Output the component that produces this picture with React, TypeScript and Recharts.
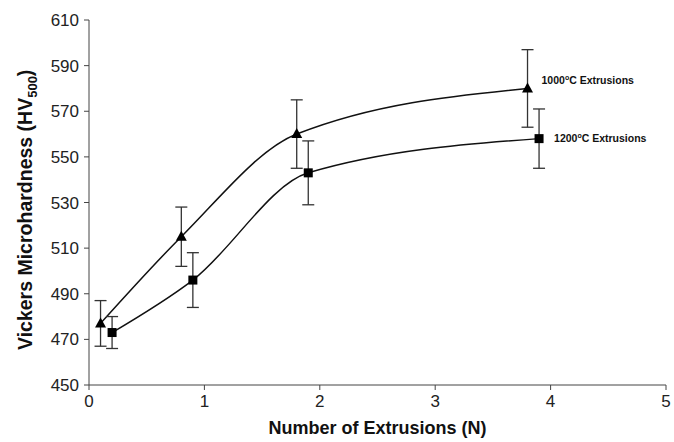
import { ErrorBar, Line, LineChart, XAxis, YAxis } from "recharts";

// 1000°C extrusions (triangles)
const n1000 = [0.1, 0.8, 1.8, 3.8];
const hv1000 = [477, 515, 560, 580];
const err1000 = [10, 13, 15, 17];

// 1200°C extrusions (squares)
const n1200 = [0.2, 0.9, 1.9, 3.9];
const hv1200 = [473, 496, 543, 558];
const err1200 = [7, 12, 14, 13];

const xTicks = [0, 1, 2, 3, 4, 5];
const yTicks = [450, 470, 490, 510, 530, 550, 570, 590, 610];

const seriesLabels = ["1000", "1200"];

const rows1000 = n1000.map((n, i) => ({ n, hv: hv1000[i], err: err1000[i] }));
const rows1200 = n1200.map((n, i) => ({ n, hv: hv1200[i], err: err1200[i] }));

const FONT = "Arial, 'Liberation Sans', Helvetica, sans-serif";

function Triangle(props: any) {
  const { cx, cy } = props;
  if (cx == null || cy == null) return null;
  return <path d={`M${cx},${cy - 6} L${cx + 5.5},${cy + 4} L${cx - 5.5},${cy + 4} Z`} fill="#000" />;
}

function Square(props: any) {
  const { cx, cy } = props;
  if (cx == null || cy == null) return null;
  return <rect x={cx - 4.5} y={cy - 4.5} width={9} height={9} fill="#000" />;
}

function endLabel(temp: string, dx: number, dy: number, last: number) {
  return (props: any) => {
    const { x, y, index } = props;
    if (index !== last) return null;
    return (
      <text x={x + dx} y={y + dy} fontFamily={FONT} fontSize={10.5} fontWeight="bold" fill="#111">
        {temp}
        <tspan fontSize={7} dy={-4}>o</tspan>
        <tspan dy={4}>C Extrusions</tspan>
      </text>
    );
  };
}

function YTitle() {
  return (
    <text transform="translate(32,350) rotate(-90)" textAnchor="start" fontFamily={FONT} fontSize={19.5} fontWeight="bold" fill="#111">
      Vickers Microhardness (HV
      <tspan fontSize={13} dy={5}>500</tspan>
      <tspan dy={-5}>)</tspan>
    </text>
  );
}

export default function App() {
  return (
    <div style={{ position: "absolute", left: 0, top: 0, background: "#fff" }}>
      <LineChart width={674} height={442} margin={{ top: 20, right: 8, bottom: 0, left: 0 }}>
        <XAxis
          type="number"
          dataKey="n"
          domain={[0, 5]}
          ticks={xTicks}
          tick={{ fontSize: 17, fill: "#222", fontFamily: FONT }}
          tickSize={5}
          tickMargin={5}
          stroke="#444"
          height={57}
          label={{ value: "Number of Extrusions (N)", position: "insideBottom", offset: 8, fontSize: 18, fontWeight: "bold", fill: "#111", fontFamily: FONT }}
        />
        <XAxis xAxisId="top" orientation="top" type="number" domain={[0, 5]} tick={false} tickLine={false} stroke="#555" height={0} />
        <YAxis
          type="number"
          domain={[450, 610]}
          ticks={yTicks}
          tick={{ fontSize: 17, fill: "#222", fontFamily: FONT }}
          tickSize={5}
          tickMargin={5}
          stroke="#444"
          width={89}
          label={<YTitle />}
        />
        <YAxis yAxisId="right" orientation="right" domain={[450, 610]} tick={false} tickLine={false} stroke="#555" width={0} />
        <Line
          data={rows1000}
          dataKey="hv"
          type="monotone"
          stroke="#111"
          strokeWidth={1.5}
          dot={<Triangle />}
          isAnimationActive={false}
          label={endLabel(seriesLabels[0], 14, -4, rows1000.length - 1)}
        >
          <ErrorBar dataKey="err" width={6} stroke="#333" strokeWidth={1.3} direction="y" />
        </Line>
        <Line
          data={rows1200}
          dataKey="hv"
          type="monotone"
          stroke="#111"
          strokeWidth={1.5}
          dot={<Square />}
          isAnimationActive={false}
          label={endLabel(seriesLabels[1], 15, 3, rows1200.length - 1)}
        >
          <ErrorBar dataKey="err" width={6} stroke="#333" strokeWidth={1.3} direction="y" />
        </Line>
      </LineChart>
    </div>
  );
}
